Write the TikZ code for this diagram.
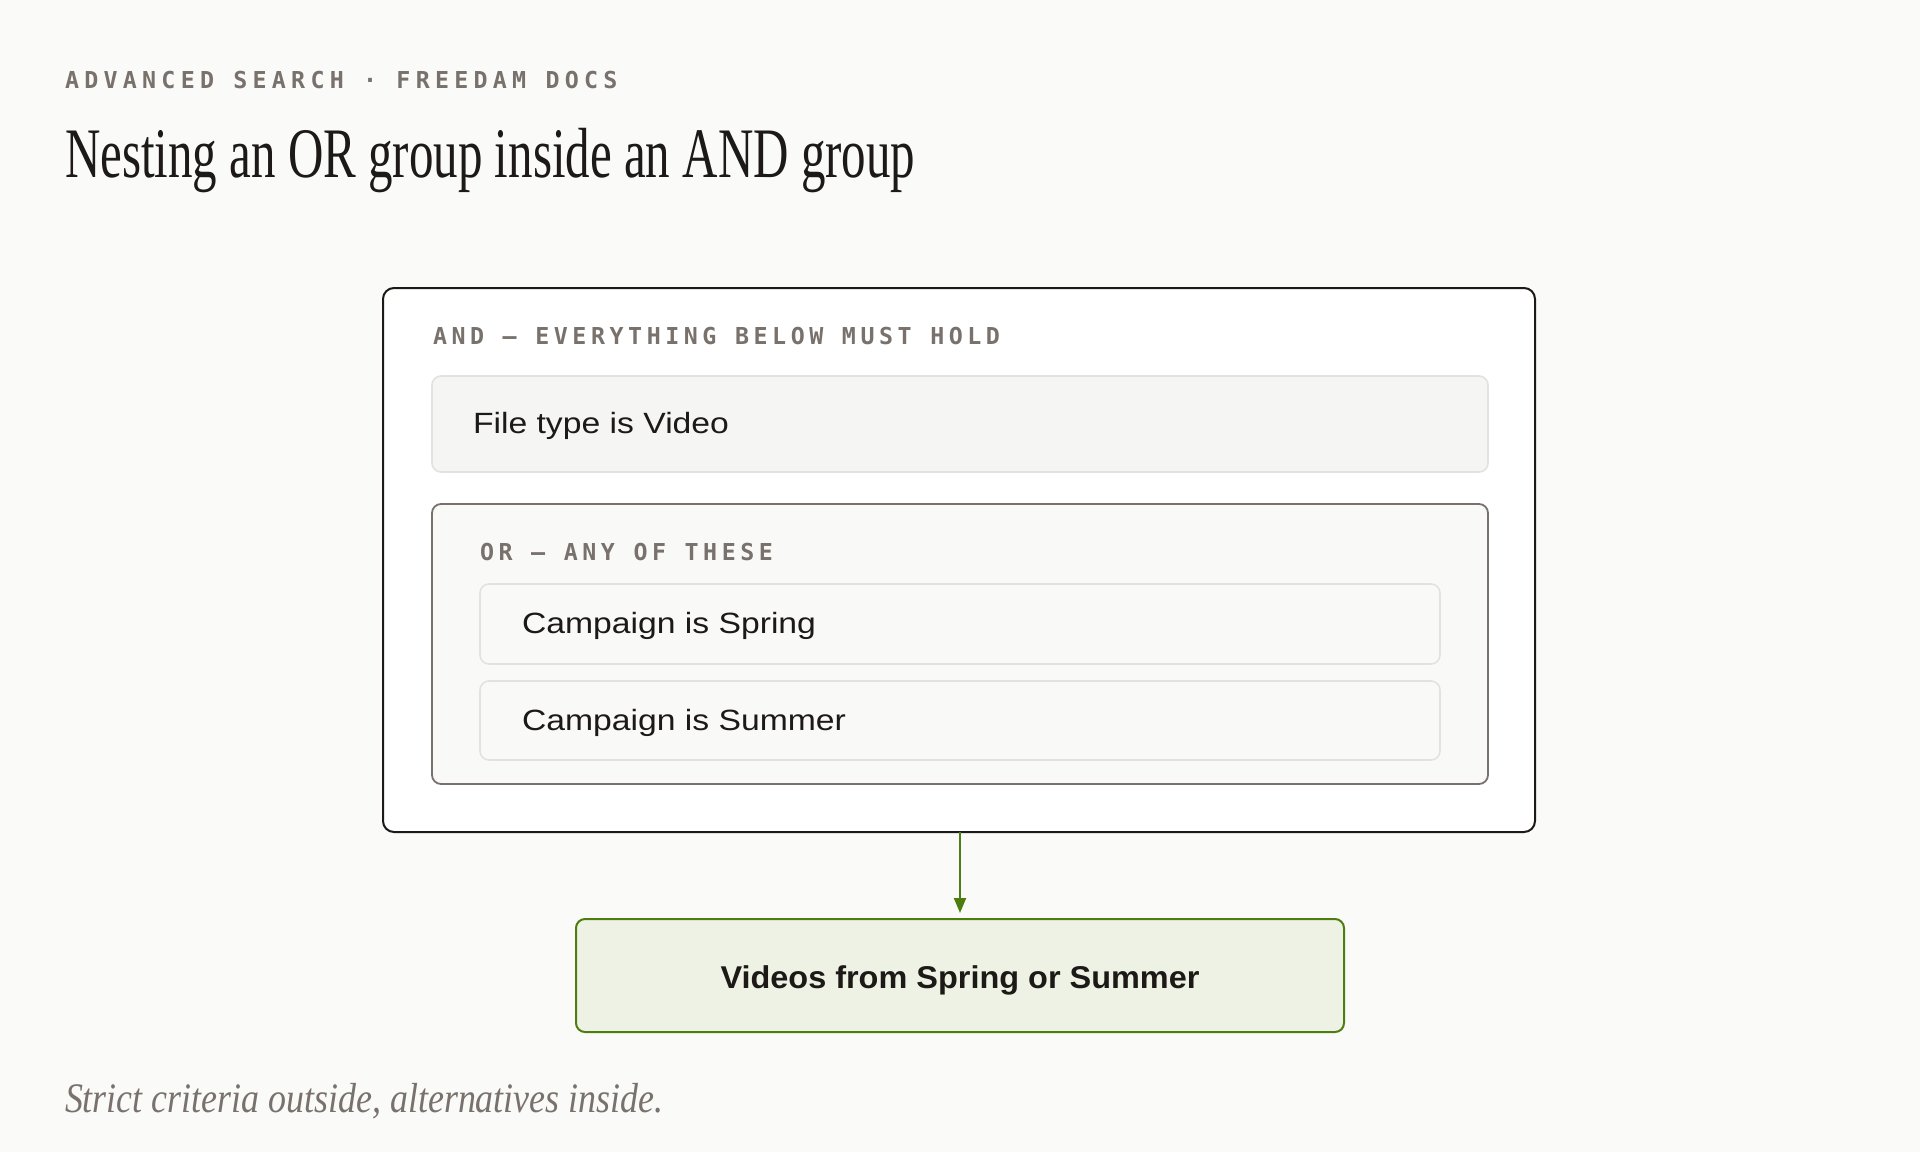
\documentclass[tikz,border=0pt]{standalone}
\usepackage{fontspec}
\usetikzlibrary{arrows.meta}
\setmainfont{Liberation Serif}
\newfontfamily\titlefont[FakeStretch=0.69]{Liberation Serif}
\newfontfamily\notefont[FakeStretch=0.855]{Liberation Serif}
\newfontfamily\bodyfont[FakeStretch=1.15]{Liberation Sans}
\newfontfamily\boldfont[FakeStretch=1.03]{Liberation Sans}
\newfontfamily\eyefont[LetterSpace=22.6]{DejaVu Sans Mono}
\newfontfamily\labfont[LetterSpace=19.5]{DejaVu Sans Mono}
\definecolor{bg}{HTML}{FAFAF9}
\definecolor{ink}{HTML}{1C1917}
\definecolor{muted}{HTML}{78716C}
\definecolor{rule}{HTML}{E4E2E0}
\definecolor{chipfill}{HTML}{F5F5F4}
\definecolor{orfill}{HTML}{F9F9F8}
\definecolor{okfill}{HTML}{EEF2E4}
\definecolor{okline}{HTML}{4D7C0F}
\tikzset{
  box/.style={rectangle, rounded corners=9pt, inner sep=0pt, outer sep=0pt},
  andbox/.style={box, draw=ink, line width=2pt, fill=white, rounded corners=11pt},
  orbox/.style={box, draw=muted, line width=1.8pt, fill=orfill},
  chip/.style={box, draw=rule, line width=1.6pt, fill=chipfill},
  orchip/.style={box, draw=rule, line width=1.6pt, fill=orfill},
  resultbox/.style={box, draw=okline, line width=2pt, fill=okfill},
  txt/.style={inner sep=0pt, outer sep=0pt, anchor=base west},
  bodytxt/.style={txt, text=ink, font=\bodyfont\fontsize{29.3}{34}\selectfont},
  labtxt/.style={txt, text=muted, font=\labfont\bfseries\fontsize{23.3}{28}\selectfont},
  link/.style={draw=okline, line width=2pt, -{Triangle[length=15pt,width=12pt]}, shorten >=6pt}
}
\begin{document}
\begin{tikzpicture}[x=1pt, y=-1pt]
\useasboundingbox (0,0) rectangle (1920,1152);
\fill[bg] (0,0) rectangle (1920,1152);

\node[txt, text=muted, font=\eyefont\bfseries\fontsize{23.3}{28}\selectfont] (eyebrow) at (65,88) {ADVANCED SEARCH · FREEDAM DOCS};
\node[txt, text=ink, font=\titlefont\fontsize{71}{80}\selectfont] (title) at (65,177) {Nesting an OR group inside an AND group};

\node[andbox, minimum width=1152pt, minimum height=544pt] (and) at (959,560) {};
\node[labtxt] (andlab) at (433,344) {AND — EVERYTHING BELOW MUST HOLD};

\node[chip, minimum width=1056pt, minimum height=96pt] (ftype) at (960,424) {};
\node[bodytxt] (ftypetxt) at (473,433) {File type is Video};

\node[orbox, minimum width=1056pt, minimum height=280pt] (or) at (960,644) {};
\node[labtxt] (orlab) at (480,560) {OR — ANY OF THESE};

\node[orchip, minimum width=960pt, minimum height=80pt] (spring) at (960,624) {};
\node[bodytxt] (springtxt) at (522,633) {Campaign is Spring};

\node[orchip, minimum width=960pt, minimum height=79pt] (summer) at (960,720.5) {};
\node[bodytxt] (summertxt) at (522,730) {Campaign is Summer};

\node[resultbox, minimum width=768pt, minimum height=113pt] (result) at (960,975.5) {};
\node[inner sep=0pt, outer sep=0pt, anchor=base, text=ink, font=\boldfont\bfseries\fontsize{31.5}{36}\selectfont] (resulttxt) at (960,988) {Videos from Spring or Summer};

\draw[link] (and.south -| result.north) -- (result.north);

\node[txt, text=muted, font=\notefont\itshape\fontsize{42}{48}\selectfont] (note) at (65,1112) {Strict criteria outside, alternatives inside.};
\end{tikzpicture}
\end{document}
